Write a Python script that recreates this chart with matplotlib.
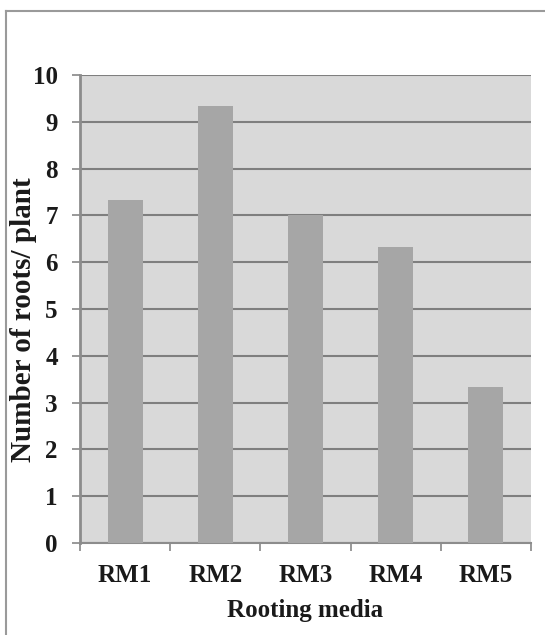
import matplotlib
matplotlib.use("Agg")
import matplotlib.pyplot as plt
from matplotlib.ticker import FixedLocator

categories = ["RM1", "RM2", "RM3", "RM4", "RM5"]
values = [7.33, 9.33, 7.0, 6.33, 3.33]
yticks = list(range(0, 11))

plt.rcParams['font.family'] = ['Liberation Serif', 'DejaVu Serif']

fig = plt.figure(figsize=(5.45, 6.35), dpi=100)
ax = fig.add_axes([80/545, 92/635, 451/545, 468/635])

ax.set_facecolor('#d9d9d9')
x = list(range(len(categories)))
ax.bar(x, values, width=0.39, color='#a6a6a6', zorder=3)

ax.set_xlim(-0.5, len(categories) - 0.5)
ax.set_ylim(0, 10)
ax.set_yticks(yticks)
ax.yaxis.grid(True, color='#7f7f7f', linewidth=1.5, zorder=1)
ax.set_axisbelow(True)

ax.xaxis.set_major_locator(FixedLocator([i - 0.5 for i in range(len(categories) + 1)]))
ax.xaxis.set_minor_locator(FixedLocator(x))
ax.set_xticklabels([], minor=False)
ax.set_xticklabels(categories, minor=True)
ax.tick_params(axis='x', which='minor', length=0, pad=15, labelsize=18)
ax.tick_params(axis='x', which='major', length=6, width=1.2, color='#888888')
ax.tick_params(axis='y', length=6, width=1.2, color='#888888', pad=10, labelsize=18)
for lab in ax.get_xticklabels(minor=True) + ax.get_yticklabels():
    lab.set_fontweight('bold')
    lab.set_color('#1a1a1a')

for s in ['top', 'right']:
    ax.spines[s].set_visible(False)
ax.spines['left'].set_color('#8c8c8c')
ax.spines['left'].set_linewidth(2)
ax.spines['bottom'].set_color('#8c8c8c')
ax.spines['bottom'].set_linewidth(1.5)

ax.set_xlabel('Rooting media', fontsize=18, fontweight='bold', color='#1a1a1a', va='center')
ax.xaxis.set_label_coords(0.5, (543 - 610) / 468)
ax.set_ylabel('Number of roots/ plant', fontsize=21, fontweight='bold', color='#1a1a1a', va='center')
ax.yaxis.set_label_coords((24 - 80) / 451, (543 - 320) / 468)

# figure frame
fig.add_artist(plt.Line2D([6/545, 6/545], [0, 1 - 11/635], transform=fig.transFigure, color='#9a9a9a', linewidth=1.5))
fig.add_artist(plt.Line2D([6/545, 1], [1 - 11/635, 1 - 11/635], transform=fig.transFigure, color='#9a9a9a', linewidth=1.5))

fig.savefig('out.png', dpi=100)
